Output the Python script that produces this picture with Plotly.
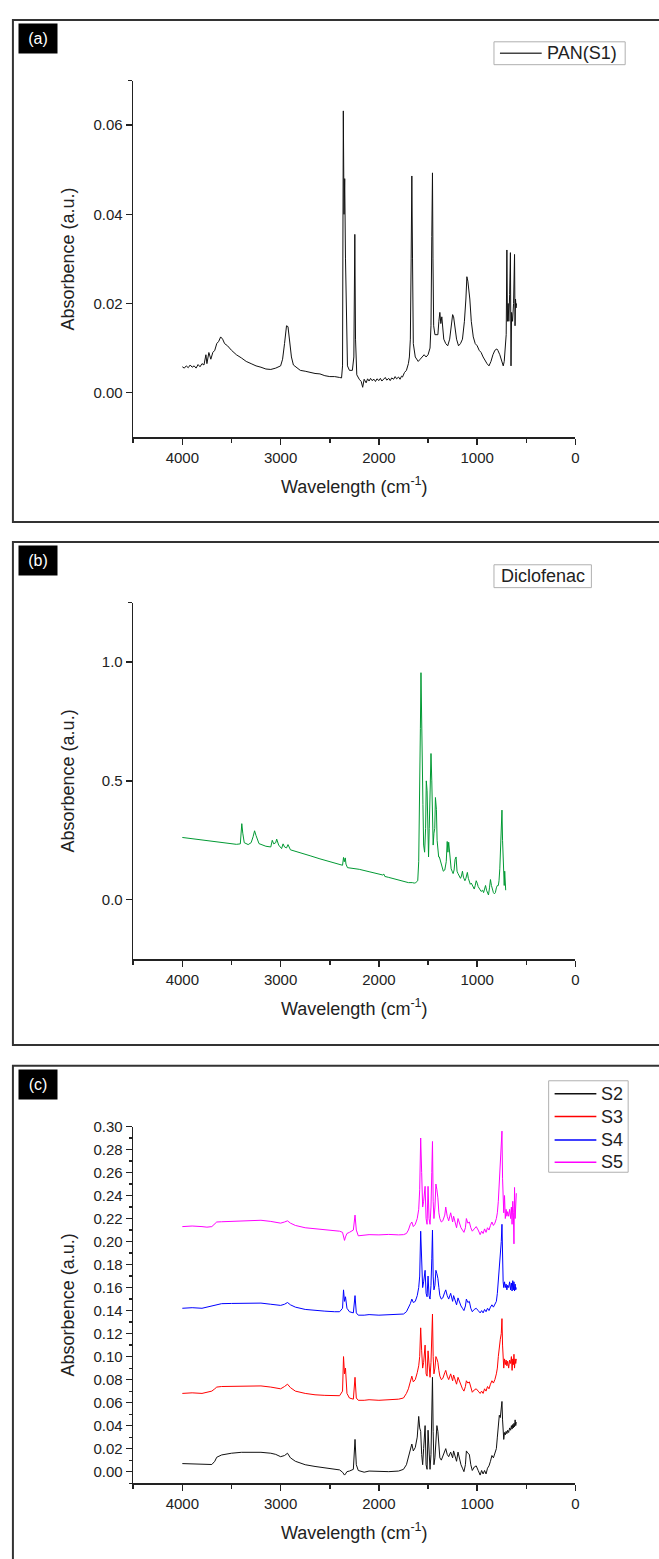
import plotly.graph_objects as go

# ---------------- DATA ----------------
# Panel (a) PAN(S1)
pan_wn = [4000, 3980, 3960, 3940, 3920, 3900, 3880, 3860, 3840, 3820, 3800, 3780, 3760, 3750, 3730, 3710,
          3690, 3670, 3650, 3630, 3610, 3590, 3570, 3540, 3500, 3450, 3400, 3350, 3300, 3250, 3200, 3150,
          3100, 3050, 3000, 2980, 2960, 2940, 2925, 2910, 2890, 2870, 2850, 2800, 2750, 2700, 2650, 2600,
          2550, 2500, 2450, 2400, 2380, 2370, 2362, 2355, 2348, 2340, 2330, 2320, 2300, 2270, 2255, 2245,
          2238, 2225, 2200, 2180, 2165, 2150, 2130, 2115, 2100, 2085, 2070, 2050, 2035, 2020, 2000, 1985,
          1970, 1950, 1935, 1920, 1900, 1885, 1870, 1850, 1835, 1820, 1800, 1785, 1770, 1760, 1740,
          1720, 1700, 1690, 1680, 1672, 1665, 1658, 1650, 1630, 1600, 1580, 1560, 1540, 1520, 1500, 1480,
          1470, 1462, 1455, 1450, 1443, 1430, 1415, 1400, 1390, 1380, 1370, 1360, 1350, 1340, 1320, 1300,
          1280, 1260, 1250, 1240, 1225, 1210, 1190, 1170, 1150, 1130, 1115, 1105, 1095, 1085, 1075, 1060,
          1040, 1020, 1000, 980, 960, 940, 920, 900, 880, 860, 840, 820, 800, 790, 770, 750,
          735, 725, 715, 705, 698, 692, 685, 678, 670, 662, 656, 650, 640, 630, 620, 615,
          610, 605, 600]
pan_abs = [0.0058, 0.0055, 0.0060, 0.0056, 0.0062, 0.0057, 0.0060, 0.0055, 0.0063, 0.0058, 0.0065, 0.0062, 0.0085, 0.0065, 0.0090, 0.0075,
           0.0090, 0.0095, 0.0110, 0.0115, 0.0125, 0.0120, 0.0110, 0.0105, 0.0095, 0.0085, 0.0078, 0.0070, 0.0065, 0.0060, 0.0057, 0.0053,
           0.0052, 0.0055, 0.0060, 0.0075, 0.0110, 0.0150, 0.0148, 0.0120, 0.0080, 0.0062, 0.0058, 0.0050, 0.0048, 0.0045, 0.0043, 0.0042,
           0.0038, 0.0036, 0.0036, 0.0034, 0.0033, 0.0060, 0.0632, 0.0400, 0.0480, 0.0300, 0.0120, 0.0060, 0.0050, 0.0050, 0.0080, 0.0355,
           0.0120, 0.0040, 0.0030, 0.0025, 0.0012, 0.0030, 0.0022, 0.0031, 0.0026, 0.0032, 0.0027, 0.0030, 0.0025, 0.0031, 0.0027, 0.0032,
           0.0026, 0.0030, 0.0034, 0.0028, 0.0032, 0.0027, 0.0033, 0.0030, 0.0036, 0.0031, 0.0035, 0.0030, 0.0037, 0.0035, 0.0045,
           0.0050, 0.0065, 0.0080, 0.0120, 0.0300, 0.0486, 0.0300, 0.0110, 0.0080, 0.0070, 0.0075, 0.0080, 0.0085, 0.0080, 0.0085, 0.0100,
           0.0150, 0.0350, 0.0493, 0.0300, 0.0150, 0.0130, 0.0130, 0.0130, 0.0160, 0.0180, 0.0155, 0.0170, 0.0145, 0.0120, 0.0110, 0.0105,
           0.0120, 0.0160, 0.0175, 0.0170, 0.0140, 0.0120, 0.0105, 0.0110, 0.0120, 0.0160, 0.0210, 0.0260, 0.0250, 0.0235, 0.0210, 0.0160,
           0.0125, 0.0110, 0.0105, 0.0095, 0.0090, 0.0080, 0.0072, 0.0065, 0.0060, 0.0070, 0.0085, 0.0095, 0.0098, 0.0095, 0.0085, 0.0072,
           0.0060, 0.0070, 0.0115, 0.0130, 0.0320, 0.0160, 0.0200, 0.0160, 0.0220, 0.0314, 0.0060, 0.0180, 0.0160, 0.0200, 0.0310, 0.0150,
           0.0210, 0.0190, 0.0200]

# Panel (b) Diclofenac
dic_wn = [4000, 3800, 3600, 3450, 3410, 3395, 3385, 3370, 3330, 3300, 3280, 3265, 3250, 3220, 3150, 3100,
          3085, 3070, 3050, 3040, 3020, 2990, 2975, 2960, 2940, 2925, 2900, 2800, 2700, 2600, 2500, 2450,
          2400, 2370, 2360, 2352, 2342, 2335, 2320, 2200, 2100, 2000, 1960, 1950, 1940, 1900, 1850, 1800,
          1750, 1700, 1660, 1640, 1625, 1615, 1605, 1595, 1585, 1578, 1572, 1566, 1560, 1552, 1545, 1535,
          1525, 1518, 1510, 1502, 1495, 1488, 1480, 1470, 1462, 1455, 1448, 1440, 1432, 1425, 1415, 1408,
          1400, 1392, 1385, 1378, 1370, 1360, 1345, 1330, 1315, 1305, 1298, 1290, 1282, 1275, 1265, 1255,
          1245, 1235, 1225, 1215, 1205, 1195, 1185, 1170, 1160, 1150, 1140, 1125, 1115, 1100, 1090, 1080,
          1070, 1060, 1050, 1040, 1030, 1020, 1010, 1000, 990, 975, 960, 945, 935, 925, 915, 905,
          895, 885, 875, 865, 855, 845, 835, 825, 815, 805, 795, 785, 778, 770, 762, 755,
          748, 742, 736, 730, 725, 720, 715, 710]
dic_abs = [0.262, 0.252, 0.242, 0.233, 0.235, 0.320, 0.280, 0.240, 0.232, 0.240, 0.265, 0.290, 0.270, 0.236, 0.225, 0.222,
           0.250, 0.235, 0.240, 0.255, 0.230, 0.215, 0.235, 0.222, 0.218, 0.232, 0.210, 0.196, 0.185, 0.172, 0.160, 0.155,
           0.150, 0.145, 0.178, 0.160, 0.176, 0.150, 0.135, 0.128, 0.118, 0.108, 0.104, 0.108, 0.098, 0.094, 0.088, 0.085,
           0.076, 0.072, 0.072, 0.070, 0.072, 0.075, 0.080, 0.160, 0.400, 0.720, 0.955, 0.720, 0.620, 0.400, 0.230, 0.200,
           0.300, 0.500, 0.460, 0.220, 0.180, 0.300, 0.400, 0.615, 0.500, 0.330, 0.230, 0.280, 0.300, 0.430, 0.380, 0.250,
           0.190, 0.180, 0.180, 0.170, 0.160, 0.140, 0.120, 0.125, 0.160, 0.245, 0.200, 0.242, 0.200, 0.160, 0.130, 0.120,
           0.110, 0.125, 0.170, 0.180, 0.120, 0.110, 0.100, 0.090, 0.100, 0.120, 0.095, 0.080, 0.090, 0.115, 0.090, 0.075,
           0.065, 0.070, 0.060, 0.050, 0.045, 0.060, 0.080, 0.070, 0.055, 0.045, 0.035, 0.040, 0.030, 0.045, 0.060, 0.040,
           0.030, 0.020, 0.050, 0.085, 0.060, 0.040, 0.030, 0.025, 0.030, 0.050, 0.060, 0.060, 0.080, 0.130, 0.200, 0.280,
           0.377, 0.250, 0.160, 0.080, 0.060, 0.120, 0.050, 0.040]

# Panel (c) S2 - S5
c_wn = [4000, 3900, 3800, 3750, 3700, 3670, 3650, 3600, 3500, 3400, 3300, 3200, 3100, 3050, 3000, 2960,
        2930, 2900, 2850, 2750, 2650, 2550, 2450, 2400, 2370, 2360, 2350, 2340, 2325, 2300, 2260, 2243,
        2230, 2210, 2150, 2100, 2000, 1900, 1800, 1750, 1720, 1700, 1680, 1665, 1650, 1630, 1610, 1595,
        1585, 1575, 1565, 1555, 1545, 1530, 1520, 1510, 1500, 1490, 1480, 1470, 1462, 1455, 1448, 1440,
        1430, 1420, 1410, 1400, 1390, 1380, 1365, 1350, 1330, 1320, 1305, 1290, 1270, 1250, 1240, 1225,
        1210, 1195, 1180, 1165, 1150, 1135, 1120, 1110, 1095, 1080, 1065, 1050, 1030, 1010, 990, 970,
        955, 940, 925, 910, 895, 880, 865, 850, 835, 820, 805, 795, 785, 775, 765, 755,
        748, 742, 736, 730, 722, 714, 706, 698, 690, 680, 670, 660, 652, 645, 638, 632,
        626, 620, 614, 608, 602]
s2_abs = [0.007, 0.0068, 0.0065, 0.0063, 0.0062, 0.0090, 0.0125, 0.0145, 0.0160, 0.0168, 0.0170, 0.0168, 0.0160, 0.0150, 0.0130, 0.0140,
          0.0160, 0.0120, 0.0090, 0.0060, 0.0045, 0.0035, 0.0025, 0.0015, -0.0005, -0.0025, -0.0030, -0.0020, 0.0000, 0.0005, 0.0020, 0.0280,
          0.0060, 0.0010, -0.0005, 0.0005, 0.0000, 0.0000, 0.0005, 0.0020, 0.0060, 0.0120, 0.0200, 0.0240, 0.0180, 0.0210, 0.0300, 0.0480,
          0.0380, 0.0350, 0.0150, 0.0060, 0.0200, 0.0400, 0.0060, 0.0020, 0.0360, 0.0100, 0.0020, 0.0150, 0.0500, 0.0820, 0.0350, 0.0060,
          0.0120, 0.0300, 0.0400, 0.0350, 0.0200, 0.0120, 0.0100, 0.0130, 0.0180, 0.0200, 0.0150, 0.0130, 0.0170, 0.0120, 0.0180, 0.0140,
          0.0090, 0.0170, 0.0100, 0.0060, 0.0030, 0.0000, 0.0060, 0.0180, 0.0160, 0.0150, 0.0060, 0.0010, 0.0040, 0.0050, 0.0010, -0.0030,
          0.0010, -0.0020, 0.0010, -0.0020, 0.0030, 0.0050, 0.0090, 0.0140, 0.0120, 0.0160, 0.0200, 0.0300, 0.0450, 0.0490, 0.0470, 0.0550,
          0.0610, 0.0450, 0.0300, 0.0280, 0.0340, 0.0320, 0.0350, 0.0330, 0.0360, 0.0340, 0.0380, 0.0360, 0.0400, 0.0370, 0.0410, 0.0380,
          0.0420, 0.0390, 0.0450, 0.0400, 0.0430]
s3_abs = [0.068, 0.0685, 0.0680, 0.0690, 0.0700, 0.0720, 0.0735, 0.0740, 0.0742, 0.0745, 0.0748, 0.0745, 0.0735, 0.0725, 0.0720, 0.0740,
          0.0760, 0.0730, 0.0700, 0.0680, 0.0668, 0.0663, 0.0660, 0.0660, 0.0700, 0.1000, 0.0850, 0.0900, 0.0680, 0.0640, 0.0630, 0.0820,
          0.0640, 0.0620, 0.0620, 0.0625, 0.0620, 0.0625, 0.0630, 0.0640, 0.0680, 0.0720, 0.0780, 0.0830, 0.0780, 0.0800, 0.0860, 0.0920,
          0.1000, 0.1250, 0.1050, 0.0900, 0.0950, 0.1100, 0.0850, 0.0830, 0.1050, 0.0880, 0.0820, 0.0950, 0.1150, 0.1370, 0.1000, 0.0850,
          0.0900, 0.1000, 0.0980, 0.0950, 0.0880, 0.0830, 0.0800, 0.0810, 0.0860, 0.0880, 0.0830, 0.0800, 0.0850, 0.0790, 0.0840, 0.0800,
          0.0760, 0.0820, 0.0780, 0.0740, 0.0720, 0.0700, 0.0740, 0.0790, 0.0770, 0.0780, 0.0720, 0.0690, 0.0710, 0.0720, 0.0700, 0.0680,
          0.0700, 0.0680, 0.0720, 0.0700, 0.0740, 0.0720, 0.0760, 0.0790, 0.0770, 0.0800, 0.0850, 0.0900, 0.1000, 0.1100, 0.1150, 0.1200,
          0.1330, 0.1100, 0.0950, 0.0900, 0.0980, 0.0930, 0.0970, 0.0920, 0.0960, 0.0900, 0.0970, 0.0940, 0.1000, 0.0880, 0.0980, 0.0930,
          0.1020, 0.0900, 0.0980, 0.0940, 0.0980]
s4_abs = [0.142, 0.1425, 0.1420, 0.1430, 0.1440, 0.1450, 0.1455, 0.1460, 0.1462, 0.1465, 0.1468, 0.1465, 0.1455, 0.1450, 0.1445, 0.1455,
          0.1470, 0.1450, 0.1430, 0.1410, 0.1400, 0.1395, 0.1390, 0.1390, 0.1420, 0.1580, 0.1480, 0.1520, 0.1420, 0.1390, 0.1380, 0.1530,
          0.1380, 0.1360, 0.1360, 0.1365, 0.1360, 0.1362, 0.1365, 0.1370, 0.1390, 0.1420, 0.1460, 0.1500, 0.1470, 0.1480, 0.1530, 0.1600,
          0.1700, 0.2090, 0.1800, 0.1600, 0.1650, 0.1750, 0.1550, 0.1520, 0.1700, 0.1530, 0.1500, 0.1620, 0.1850, 0.2100, 0.1700, 0.1580,
          0.1620, 0.1750, 0.1720, 0.1680, 0.1600, 0.1530, 0.1500, 0.1510, 0.1560, 0.1580, 0.1530, 0.1500, 0.1550, 0.1480, 0.1530, 0.1490,
          0.1450, 0.1510, 0.1470, 0.1440, 0.1420, 0.1400, 0.1440, 0.1500, 0.1470, 0.1480, 0.1420, 0.1390, 0.1410, 0.1420, 0.1400, 0.1380,
          0.1400, 0.1380, 0.1410, 0.1390, 0.1420, 0.1400, 0.1430, 0.1450, 0.1430, 0.1450, 0.1480, 0.1550, 0.1650, 0.1800, 0.1900, 0.2000,
          0.2150, 0.1800, 0.1650, 0.1600, 0.1650, 0.1600, 0.1630, 0.1580, 0.1620, 0.1600, 0.1650, 0.1580, 0.1640, 0.1570, 0.1660, 0.1580,
          0.1650, 0.1570, 0.1630, 0.1580, 0.1600]
s5_abs = [0.213, 0.2135, 0.2130, 0.2125, 0.2130, 0.2160, 0.2170, 0.2172, 0.2175, 0.2178, 0.2182, 0.2185, 0.2175, 0.2168, 0.2160, 0.2170,
          0.2180, 0.2160, 0.2140, 0.2120, 0.2110, 0.2100, 0.2095, 0.2090, 0.2080, 0.2030, 0.2010, 0.2040, 0.2070, 0.2080, 0.2100, 0.2230,
          0.2100, 0.2050, 0.2055, 0.2060, 0.2058, 0.2062, 0.2058, 0.2060, 0.2070, 0.2100, 0.2150, 0.2170, 0.2130, 0.2150, 0.2200, 0.2280,
          0.2450, 0.2900, 0.2600, 0.2300, 0.2350, 0.2480, 0.2200, 0.2150, 0.2480, 0.2200, 0.2150, 0.2300, 0.2600, 0.2870, 0.2350, 0.2200,
          0.2300, 0.2500, 0.2450, 0.2380, 0.2250, 0.2200, 0.2170, 0.2180, 0.2230, 0.2300, 0.2220, 0.2180, 0.2250, 0.2170, 0.2220, 0.2180,
          0.2120, 0.2200, 0.2150, 0.2120, 0.2100, 0.2080, 0.2120, 0.2200, 0.2160, 0.2170, 0.2120, 0.2090, 0.2110, 0.2130, 0.2100, 0.2060,
          0.2090, 0.2070, 0.2110, 0.2080, 0.2120, 0.2100, 0.2140, 0.2170, 0.2140, 0.2160, 0.2200, 0.2250, 0.2350, 0.2500, 0.2600, 0.2750,
          0.2960, 0.2550, 0.2300, 0.2250, 0.2400, 0.2200, 0.2280, 0.2220, 0.2260, 0.2220, 0.2280, 0.2200, 0.2300, 0.2150, 0.2350, 0.2250,
          0.1980, 0.2470, 0.2200, 0.2400, 0.2420]

x_ticks = [4000, 3000, 2000, 1000, 0]
x_minor = [4500, 3500, 2500, 1500, 500]
tick_labels_a = ["0.00", "0.02", "0.04", "0.06"]
tick_labels_b = ["0.0", "0.5", "1.0"]
tick_vals_c = [0.00, 0.02, 0.04, 0.06, 0.08, 0.10, 0.12, 0.14, 0.16, 0.18, 0.20, 0.22, 0.24, 0.26, 0.28, 0.30]

# ---------------- LAYOUT ----------------
W, H = 659, 1559
FONT = "Liberation Sans, Arial, sans-serif"
AX = "#222222"

def py(p):
    return 1 - p / H

def px(p):
    return p / W

X0, X1 = 134, 579
panels = [(72, 430.7), (597, 955.7), (1124, 1482.7)]

series_c = [("S2", s2_abs, "#111111"), ("S3", s3_abs, "#FF0000"),
            ("S4", s4_abs, "#0000FF"), ("S5", s5_abs, "#FF00FF")]

fig = go.Figure()
fig.add_trace(go.Scatter(x=pan_wn, y=pan_abs, mode="lines", name="PAN(S1)", showlegend=False,
                         line=dict(color="#111111", width=1), xaxis="x", yaxis="y"))
fig.add_trace(go.Scatter(x=dic_wn, y=dic_abs, mode="lines", name="Diclofenac", showlegend=False,
                         line=dict(color="#009933", width=1), xaxis="x2", yaxis="y2"))
for nm, arr, col in series_c:
    fig.add_trace(go.Scatter(x=c_wn, y=arr, mode="lines", name=nm, showlegend=False,
                             line=dict(color=col, width=1), xaxis="x3", yaxis="y3"))

common_x = dict(range=[4500, 0], tickvals=x_ticks, ticktext=[str(v) for v in x_ticks],
                showline=True, linecolor=AX, linewidth=1.5, ticks="outside", ticklen=6, tickwidth=1.5,
                tickcolor=AX, showgrid=False, zeroline=False, domain=[px(X0), px(X1)],
                tickfont=dict(size=15, color=AX, family=FONT), fixedrange=True,
                minor=dict(tickvals=x_minor, ticks="outside", ticklen=4, tickwidth=1.5, tickcolor=AX))
common_y = dict(showline=True, linecolor=AX, linewidth=1.5, ticks="outside", ticklen=6, tickwidth=1.5,
                tickcolor=AX, showgrid=False, zeroline=False, fixedrange=True,
                tickfont=dict(size=15, color=AX, family=FONT))

layout = dict(width=W, height=H, margin=dict(l=0, r=0, t=0, b=0), autosize=False, showlegend=False,
              paper_bgcolor="white", plot_bgcolor="white", font=dict(family=FONT, color=AX))
for i, (top, bot) in enumerate(panels):
    s = "" if i == 0 else str(i + 1)
    layout["xaxis" + s] = dict(common_x, anchor="y" + s)
    layout["yaxis" + s] = dict(common_y, anchor="x" + s, domain=[py(bot), py(top)])

layout["yaxis"].update(range=[-0.01, 0.07], tickvals=[0, 0.02, 0.04, 0.06], ticktext=tick_labels_a,
                       minor=dict(tickvals=[0.07], ticks="outside", ticklen=4, tickwidth=1.5, tickcolor=AX))
layout["yaxis2"].update(range=[-0.25, 1.25], tickvals=[0, 0.5, 1.0], ticktext=tick_labels_b,
                        minor=dict(tickvals=[1.25], ticks="outside", ticklen=4, tickwidth=1.5, tickcolor=AX))
layout["yaxis3"].update(range=[-0.01, 0.30], tickvals=tick_vals_c, ticktext=["%.2f" % v for v in tick_vals_c],
                        minor=dict(dtick=0.01, tick0=0.01, ticks="outside", ticklen=3, tickwidth=1.2, tickcolor=AX))

fig.update_layout(**layout)

shapes = []
annotations = []


def label(text, x, y, size=18, color=AX, xanchor="center", yanchor="middle", **kw):
    d = dict(text=text, x=px(x), y=py(y), xref="paper", yref="paper", showarrow=False,
             xanchor=xanchor, yanchor=yanchor, font=dict(size=size, color=color, family=FONT))
    d.update(kw)
    annotations.append(d)


borders = [(11, 516), (536, 1042), (1063, 1575)]
labels = ["(a)", "(b)", "(c)"]
for (t, b), lab in zip(borders, labels):
    shapes.append(dict(type="rect", xref="paper", yref="paper", x0=px(13), x1=px(680),
                       y0=py(b), y1=py(t), line=dict(color="#333333", width=2), layer="below"))
    label(lab, 18, t + 3, size=16, color="white", xanchor="left", yanchor="top", bgcolor="black",
          width=28, height=19, borderpad=5, align="center", valign="middle")

for top, bot in panels:
    label("Wavelength (cm<sup>-1</sup>)", (X0 + X1) / 2, bot + 49)
    label("Absorbence (a.u.)", 68, (top + bot) / 2, textangle=-90)

# legend boxes (drawn to match the original's compact legends)
LEG_BORDER = "#b0b0b0"
shapes.append(dict(type="rect", xref="paper", yref="paper", x0=px(497), x1=px(629), y0=py(56), y1=py(33),
                   line=dict(color=LEG_BORDER, width=1), fillcolor="white", layer="above"))
shapes.append(dict(type="line", xref="paper", yref="paper", x0=px(503), x1=px(545), y0=py(44.5), y1=py(44.5),
                   line=dict(color="#444444", width=1.5)))
label("PAN(S1)", 548, 44.5, xanchor="left")

shapes.append(dict(type="rect", xref="paper", yref="paper", x0=px(497), x1=px(595), y0=py(582), y1=py(559),
                   line=dict(color=LEG_BORDER, width=1), fillcolor="white", layer="above"))
label("Diclofenac", 546, 570.5)

shapes.append(dict(type="rect", xref="paper", yref="paper", x0=px(552), x1=px(632), y0=py(1170), y1=py(1078),
                   line=dict(color=LEG_BORDER, width=1), fillcolor="white", layer="above"))
legend_rows = [1091, 1114, 1137.5, 1160]
for (nm, arr, col), yy in zip(series_c, legend_rows):
    shapes.append(dict(type="line", xref="paper", yref="paper", x0=px(558), x1=px(600), y0=py(yy), y1=py(yy),
                       line=dict(color=col, width=1.5)))
    label(nm, 603, yy, xanchor="left")

fig.update_layout(shapes=shapes, annotations=annotations)
fig.write_html("out.html", config={"displayModeBar": False, "staticPlot": True})

# pin the figure to the window origin (no page margin, no stray line boxes above it)
css = ("<style>html,body{margin:0;padding:0;overflow:hidden;width:659px;height:1559px;}"
       ".plotly-graph-div{position:absolute !important;top:0;left:0;}</style>")
with open("out.html", encoding="utf-8") as f:
    html = f.read()
html = html.replace("<head>", "<head>" + css, 1)
with open("out.html", "w", encoding="utf-8") as f:
    f.write(html)
